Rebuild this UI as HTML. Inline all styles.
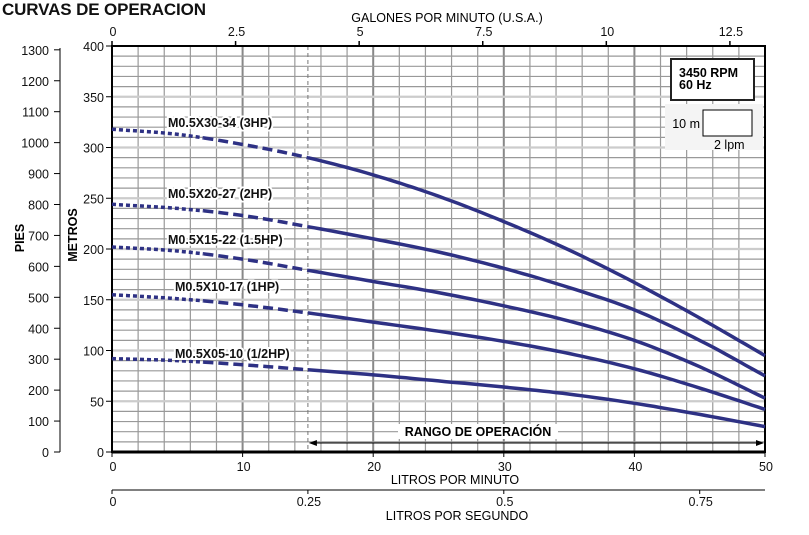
<!DOCTYPE html>
<html><head><meta charset="utf-8"><style>
body{margin:0;background:#fff;}
svg text{font-family:"Liberation Sans",Arial,sans-serif;}
</style></head><body>
<svg id="c" width="809" height="530" viewBox="0 0 809 530" xmlns="http://www.w3.org/2000/svg">
<text x="2" y="15" font-size="17" font-weight="bold" fill="#111" textLength="204">CURVAS DE OPERACION</text>
<g id="grid"></g>
<g id="axes"></g>
<g id="curves"></g>
<g id="labels"></g>
</svg>
<script>
const flows=[0,5,10,15,20,25,30,35,40,45,50];
const seriesNames=["M0.5X30-34 (3HP)","M0.5X20-27 (2HP)","M0.5X15-22 (1.5HP)","M0.5X10-17 (1HP)","M0.5X05-10 (1/2HP)"];
const s3hp=[318,313,303,290,273,252,227,199,167,132,95];
const s2hp=[244,240,233,222,210,197,181,162,140,110,75];
const s15hp=[202,198,190,179,168,157,144,129,110,84,53];
const s1hp=[155,151,145,137,128,119,109,97,82,63,42];
const s05hp=[92,90,86,81,76,70,64,57,48,37,25];
const metroTicks=[0,50,100,150,200,250,300,350,400];
const lpmTicks=[0,10,20,30,40,50];
const gpmTicks=[0,2.5,5,7.5,10,12.5];
const lpsTicks=[0,0.25,0.5,0.75];
const piesTicks=[0,100,200,300,400,500,600,700,800,900,1000,1100,1200,1300];
const labelAnchors=[[168,123],[168,194],[168,240],[175,287],[175,354]];

const X0=112,X1=765,Y0=452,Y1=46;
const xs=v=>X0+(v/50)*(X1-X0);
const ys=v=>Y0-(v/400)*(Y0-Y1);
const NS="http://www.w3.org/2000/svg";
function mk(tag,attrs,parent,txt){const e=document.createElementNS(NS,tag);for(const k in attrs)e.setAttribute(k,attrs[k]);if(txt!==undefined)e.textContent=txt;document.getElementById(parent).appendChild(e);return e;}

for(let f=2;f<50;f+=2){const major=f%10===0;
 const l=mk('line',{x1:xs(f),x2:xs(f),y1:Y1,y2:Y0,stroke:major?'#888':'#999','stroke-width':major?2:1.2},'grid');
 }
for(let m=10;m<400;m+=10){const major=m%50===0;
 const l=mk('line',{x1:X0,x2:X1,y1:ys(m),y2:ys(m),stroke:major?'#ccc':'#999','stroke-width':major?2.2:1.2},'grid');
 }
let dl=mk('line',{x1:xs(15),x2:xs(15),y1:Y1,y2:Y0,stroke:'#777','stroke-width':1,'stroke-dasharray':'4,3'},'grid');


let fr=mk('rect',{x:X0,y:Y1,width:X1-X0,height:Y0-Y1,fill:'none',stroke:'#000','stroke-width':2},'axes');

let bl=mk('line',{x1:X0,x2:X1,y1:Y0,y2:Y0,stroke:'#000','stroke-width':3},'axes');

metroTicks.forEach(v=>{mk('line',{x1:X0-6,x2:X0,y1:ys(v),y2:ys(v),stroke:'#000','stroke-width':1},'axes');
 const t=mk('text',{x:X0-8,y:ys(v)+5,'font-size':12.5,'text-anchor':'end',fill:'#111'},'axes',v);
 });
mk('line',{x1:60,x2:60,y1:48,y2:452,stroke:'#000','stroke-width':1},'axes');
piesTicks.forEach(v=>{const y=ys(v*0.3048);mk('line',{x1:54,x2:60,y1:y,y2:y,stroke:'#000'},'axes');
 const t=mk('text',{x:49,y:y+5,'font-size':12.5,'text-anchor':'end',fill:'#111'},'axes',v);
 });
let t1=mk('text',{x:24,y:238,'font-size':12.5,'font-weight':'bold','text-anchor':'middle',transform:'rotate(-90 24 238)'},'axes','PIES');

let t2=mk('text',{x:77,y:235,'font-size':12.5,'font-weight':'bold','text-anchor':'middle',transform:'rotate(-90 77 235)'},'axes','METROS');

lpmTicks.forEach(v=>{mk('line',{x1:xs(v),x2:xs(v),y1:Y0,y2:Y0+5,stroke:'#000'},'axes');
 const t=mk('text',{x:xs(v)+1,y:471,'font-size':12.5,'text-anchor':'middle',fill:'#111'},'axes',v);
 });
let t3=mk('text',{x:455,y:484,'font-size':12.5,'text-anchor':'middle'},'axes','LITROS POR MINUTO');

gpmTicks.forEach(v=>{const x=xs(v*3.785);mk('line',{x1:x,x2:x,y1:Y1-5,y2:Y1,stroke:'#000','stroke-width':1.5},'axes');
 const t=mk('text',{x:x+1,y:36,'font-size':12.5,'text-anchor':'middle',fill:'#111'},'axes',v);
 });
let t4=mk('text',{x:447,y:22,'font-size':12.5,'text-anchor':'middle'},'axes','GALONES POR MINUTO (U.S.A.)');

mk('line',{x1:X0,x2:X1,y1:490,y2:490,stroke:'#000','stroke-width':1},'axes');
lpsTicks.forEach(v=>{const x=xs(v*60);mk('line',{x1:x,x2:x,y1:490,y2:494,stroke:'#000'},'axes');
 const t=mk('text',{x:x+1,y:506,'font-size':12.5,'text-anchor':'middle',fill:'#111'},'axes',v);
 });
let t5=mk('text',{x:457,y:520,'font-size':12.5,'text-anchor':'middle'},'axes','LITROS POR SEGUNDO');


function interp(vals,f){
 const n=vals.length;const i=Math.min(Math.floor(f/5),n-2),t=(f-flows[i])/5;
 const p1=vals[i],p2=vals[i+1];
 const p0=i>0?vals[i-1]:2*p1-p2;
 const p3=i+2<n?vals[i+2]:2*p2-p1;
 return 0.5*((2*p1)+(-p0+p2)*t+(2*p0-5*p1+4*p2-p3)*t*t+(-p0+3*p1-3*p2+p3)*t*t*t);}
function pathFor(vals,a,b){
 const pts=[];for(let f=a;f<=b+1e-9;f+=0.5){pts.push([xs(f),ys(interp(vals,f))]);}
 return 'M'+pts.map(p=>p[0].toFixed(1)+','+p[1].toFixed(1)).join('L');}
const all=[s3hp,s2hp,s15hp,s1hp,s05hp];
all.forEach((vals,k)=>{
 const d1=mk('path',{d:pathFor(vals,0,7),fill:'none',stroke:'#2e3184','stroke-width':3.5,'stroke-dasharray':'4,3'},'curves');
 
 const d2=mk('path',{d:pathFor(vals,7,15),fill:'none',stroke:'#2e3184','stroke-width':3.5,'stroke-dasharray':'10,5'},'curves');
 
 const d3=mk('path',{d:pathFor(vals,15,50),fill:'none',stroke:'#2e3184','stroke-width':3.5},'curves');
 
 const [lx,ly]=labelAnchors[k];
 const tx=mk('text',{x:lx,y:ly+4,'font-size':12.5,'font-weight':'bold',fill:'#111',stroke:'#fff','stroke-width':4,'paint-order':'stroke'},'labels',seriesNames[k]);
 
});

mk('line',{x1:xs(15)+2,x2:X1-2,y1:443,y2:443,stroke:'#000','stroke-width':1},'labels');
mk('path',{d:`M${xs(15)+1},443 l8,-3 v6z`,fill:'#000'},'labels');
mk('path',{d:`M${X1-1},443 l-8,-3 v6z`,fill:'#000'},'labels');
mk('rect',{x:398,y:424,width:160,height:15,fill:'#fff'},'labels');
let rt=mk('text',{x:478,y:436,'font-size':12.5,'font-weight':'bold','text-anchor':'middle'},'labels','RANGO DE OPERACIÓN');


mk('rect',{x:665,y:104,width:98,height:46,fill:'#f4f4f4'},'labels');
mk('rect',{x:671,y:59,width:83,height:41,fill:'#fff',stroke:'#222','stroke-width':2},'labels');
let rp=mk('text',{x:679,y:77,'font-size':12.5,'font-weight':'bold'},'labels','3450 RPM');

let hz=mk('text',{x:679,y:89,'font-size':12.5,'font-weight':'bold'},'labels','60 Hz');

mk('rect',{x:703,y:110,width:49,height:26,fill:'#fff',stroke:'#000','stroke-width':1},'labels');
let sm=mk('text',{x:700,y:128,'font-size':12.5,'text-anchor':'end'},'labels','10 m');

let sl=mk('text',{x:714,y:149,'font-size':12.5},'labels','2 lpm');

</script>
</body></html>
